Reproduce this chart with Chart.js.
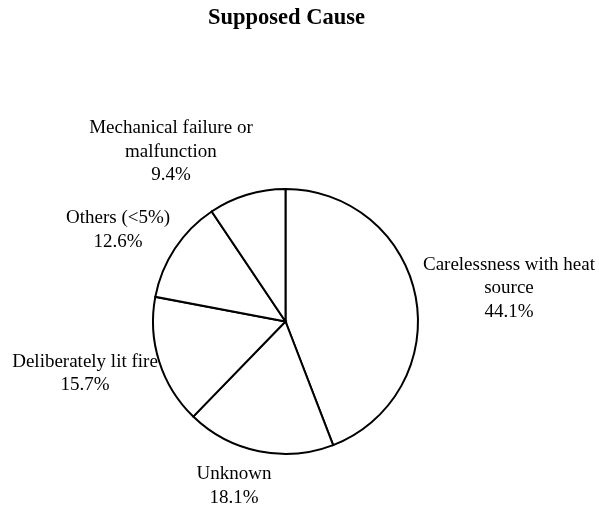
<!DOCTYPE html>
<html>
<head>
<meta charset="utf-8">
<script src="https://cdn.jsdelivr.net/npm/chart.js@4/dist/chart.umd.min.js"></script>
<style>
  html, body { margin: 0; padding: 0; background: #ffffff; }
  #wrap { width: 599px; height: 505px; position: relative; }
</style>
</head>
<body>
<div id="wrap"><canvas id="c" width="599" height="505"></canvas></div>
<script>
const chartTitle = "Supposed Cause";
const categories = [
  ["Carelessness with heat", "source"],
  ["Unknown"],
  ["Deliberately lit fire"],
  ["Others (<5%)"],
  ["Mechanical failure or", "malfunction"]
];
const shares = [44.1, 18.1, 15.7, 12.6, 9.4];

// offset (px) of each label block's centre from the point just outside its slice
const labelOffset = [[88.3, -3.3], [-24, 34.6], [-69.4, 15.3], [-52.7, -10.7], [-74.5, -33]];

const FONT = '"Liberation Serif", "Times New Roman", serif';
const LINE_H = 23.5;

const labelPlugin = {
  id: 'outsideLabels',
  afterDraw(chart) {
    const ctx = chart.ctx;
    const meta = chart.getDatasetMeta(0);
    ctx.save();
    ctx.fillStyle = '#000';
    ctx.textAlign = 'center';
    ctx.textBaseline = 'alphabetic';
    // title
    ctx.font = 'bold 22.5px ' + FONT;
    const ca = chart.chartArea;
    ctx.fillText(chartTitle, (ca.left + ca.right) / 2 + 1, 24);

    ctx.font = '19px ' + FONT;
    meta.data.forEach((arc, i) => {
      const p = arc.getProps(['x', 'y', 'startAngle', 'endAngle', 'outerRadius'], true);
      const mid = (p.startAngle + p.endAngle) / 2;
      const lines = categories[i].concat([shares[i].toFixed(1) + '%']);
      const r = p.outerRadius + 5;
      const cx = p.x + Math.cos(mid) * r + labelOffset[i][0];
      const cy = p.y + Math.sin(mid) * r + labelOffset[i][1];
      const n = lines.length;
      lines.forEach((l, k) => {
        ctx.fillText(l, cx, cy + (k - (n - 1) / 2) * LINE_H);
      });
    });
    ctx.restore();
  }
};

new Chart(document.getElementById('c'), {
  type: 'pie',
  data: {
    labels: categories.map(c => c.join(' ')),
    datasets: [{
      data: shares,
      backgroundColor: '#ffffff',
      borderColor: '#000000',
      borderWidth: 2,
      borderJoinStyle: 'miter'
    }]
  },
  options: {
    responsive: false,
    animation: false,
    events: [],
    layout: { padding: { left: 152, right: 180, top: 188, bottom: 50 } },
    plugins: {
      legend: { display: false },
      tooltip: { enabled: false },
      title: { display: false }
    }
  },
  plugins: [labelPlugin]
});
</script>
</body>
</html>
